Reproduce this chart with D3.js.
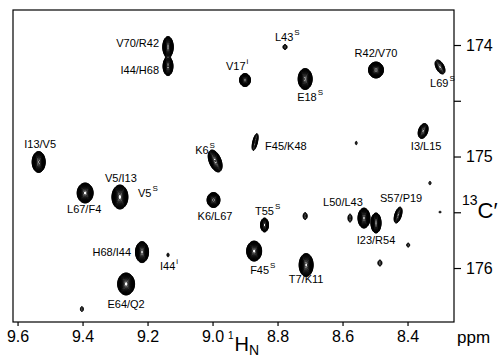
<!DOCTYPE html>
<html>
<head>
<meta charset="utf-8">
<script src="https://cdn.jsdelivr.net/npm/d3@7"></script>
<style>
  body { margin: 0; background: #fff; }
  svg { display: block; font-family: "Liberation Sans", Arial, Helvetica, sans-serif; }
</style>
</head>
<body>
<svg id="chart" width="503" height="360"></svg>
<script>
// cross peaks: 1H_N shift, 13C' shift (ppm), height, linewidths (ppm), tilt
var peakH   = [9.137, 9.137, 8.900, 8.777, 8.715, 8.497, 8.300, 9.535, 8.992, 8.869, 8.352,
               9.392, 9.285, 8.997, 8.840, 8.534, 8.497, 8.429, 9.217, 9.137, 8.872, 8.712,
               9.266, 9.402, 8.715, 8.577, 8.398, 8.485, 8.300, 8.331, 8.558];
var peakC   = [174.018, 174.19, 174.314, 174.018, 174.305, 174.224, 174.197, 175.049, 175.040,
               174.870, 174.771, 175.327, 175.363, 175.390, 175.614, 175.552, 175.596, 175.525,
               175.857, 175.883, 175.848, 175.973, 176.143, 176.368, 175.534, 175.552, 175.794,
               175.955, 175.498, 175.238, 174.879];
var peakAmp = [60, 40, 40, 2.5, 80, 80, 8, 80, 40, 6, 15,
               90, 90, 50, 20, 70, 60, 10, 70, 1.6, 90, 70,
               90, 1.8, 2.5, 2.5, 1.8, 2.2, 1.4, 1.5, 1.5];
var peakWH  = [0.0056, 0.0056, 0.0062, 0.0046, 0.0073, 0.0078, 0.0075, 0.0068, 0.0079, 0.0049, 0.0066,
               0.0082, 0.0082, 0.0071, 0.0050, 0.0063, 0.0054, 0.0057, 0.0069, 0.0032, 0.0077, 0.0074,
               0.0087, 0.0043, 0.0046, 0.0046, 0.0043, 0.0049, 0.0037, 0.0035, 0.0030];
var peakWC  = [0.033, 0.031, 0.0214, 0.0166, 0.0318, 0.0242, 0.0308, 0.0318, 0.0363, 0.0403, 0.0289,
               0.0299, 0.0359, 0.024, 0.0256, 0.0308, 0.0314, 0.0334, 0.0323, 0.0185, 0.0299, 0.0354,
               0.0329, 0.0207, 0.0233, 0.0266, 0.0166, 0.0214, 0.011, 0.018, 0.018];
var peakTilt = [0, 0, 0, 0, 0, 0, 0.5, 0, 0.45, -0.6, -0.3,
                0, 0, 0, 0, 0, 0, -0.5, 0, 0, 0, 0,
                0, 0, 0, 0, 0, 0, 0, 0, 0];

// assignments
var labelText = ['V70/R42', 'I44/H68', 'V17', 'L43', 'E18', 'R42/V70', 'L69', 'I13/V5', 'K6',
                 'F45/K48', 'I3/L15', 'L67/F4', 'V5/I13', 'V5', 'K6/L67', 'T55', 'L50/L43',
                 'S57/P19', 'I23/R54', 'H68/I44', 'I44', 'F45', 'T7/K11', 'E64/Q2'];
var labelSup  = ['', '', 'i', 'S', 'S', '', 'S', '', 'S',
                 '', '', '', '', 'S', '', 'S', '',
                 '', '', '', 'i', 'S', '', ''];
var labelPeak = [0, 1, 2, 3, 4, 5, 6, 7, 8, 9, 10, 11, 12, 12, 13, 14, 15, 17, 16, 18, 19, 20, 21, 22];

var xTicks = [9.6, 9.4, 9.2, 9.0, 8.8, 8.6, 8.4];
var yTicks = [174, 175, 176];
var yMinorTicks = [174.5, 175.5];

// label placement relative to the peak (anchor, dx, dy in px)
var labelPlace = [
  ['end', -9, 0], ['end', -9, 8], ['start', -19, -10], ['start', -10, -6], ['start', -8, 22],
  ['middle', 0, -13], ['start', -10, 20], ['middle', 1.5, -14], ['start', -20, -7],
  ['start', 10, 8], ['middle', 3, 19], ['middle', -1, 20], ['middle', 1, -15], ['start', 18, 0],
  ['middle', 1.5, 20], ['start', -9.5, -10], ['middle', -21, -12], ['middle', 3, -13],
  ['middle', 0, 21], ['end', -11, 4], ['start', -8, 15], ['start', -4, 23], ['middle', 0, 18],
  ['middle', 0, 24]
];

var plotL = 13, plotR = 454, plotT = 10, plotB = 322;
var svg = d3.select('#chart');

var x = d3.scaleLinear().domain([9.614, 8.257]).range([plotL, plotR]);
var y = d3.scaleLinear().domain([173.686, 176.484]).range([plotT, plotB]);

// build the spectrum on a half-pixel grid
var res = 0.5;
var nx = Math.round((plotR - plotL) / res), ny = Math.round((plotB - plotT) / res);
var grid = new Float64Array(nx * ny);
var pxH = Math.abs(x(1) - x(0)), pxC = Math.abs(y(1) - y(0));

for (var p = 0; p < peakH.length; p++) {
  var cx = (x(peakH[p]) - plotL) / res;
  var cy = (y(peakC[p]) - plotT) / res;
  var sx = peakWH[p] * pxH / res;
  var sy = peakWC[p] * pxC / res;
  var r = peakTilt[p];
  var k = 1 / (2 * (1 - r * r));
  var i0 = Math.max(0, Math.floor(cx - 6 * sx)), i1 = Math.min(nx - 1, Math.ceil(cx + 6 * sx));
  var j0 = Math.max(0, Math.floor(cy - 6 * sy)), j1 = Math.min(ny - 1, Math.ceil(cy + 6 * sy));
  for (var j = j0; j <= j1; j++) {
    var v = (j - cy) / sy;
    for (var i = i0; i <= i1; i++) {
      var u = (i - cx) / sx;
      grid[j * nx + i] += peakAmp[p] * Math.exp(-k * (u * u - 2 * r * u * v + v * v));
    }
  }
}

// contour levels, spaced by a constant factor as in the plotted spectrum
var levels = d3.range(22).map(function(i) { return Math.pow(1.24, i); });
var contours = d3.contours().size([nx, ny]).thresholds(levels)(grid);
var path = d3.geoPath(d3.geoIdentity().scale(res).translate([plotL - res / 2, plotT - res / 2]));

svg.append('g')
  .selectAll('path')
  .data(contours)
  .join('path')
  .attr('d', path)
  .attr('fill', 'none')
  .attr('stroke', '#000')
  .attr('stroke-width', 1);

// frame
svg.append('rect')
  .attr('x', plotL).attr('y', plotT)
  .attr('width', plotR - plotL).attr('height', plotB - plotT)
  .attr('fill', 'none').attr('stroke', '#000').attr('stroke-width', 1.2);

// axes
var xAxis = svg.append('g')
  .attr('transform', 'translate(0,' + plotB + ')')
  .call(d3.axisBottom(x).tickValues(xTicks).tickSize(4).tickPadding(5).tickFormat(d3.format('.1f')));
var yAxis = svg.append('g')
  .attr('transform', 'translate(' + plotR + ',0)')
  .call(d3.axisRight(y).tickValues(yTicks).tickSize(7).tickPadding(5).tickFormat(d3.format('d')));
var yMinor = svg.append('g')
  .attr('transform', 'translate(' + plotR + ',0)')
  .call(d3.axisRight(y).tickValues(yMinorTicks).tickSize(7).tickFormat(''));

[xAxis, yAxis, yMinor].forEach(function(a) {
  a.select('.domain').remove();
  a.selectAll('line').attr('stroke', '#000').attr('stroke-width', 1.2);
  a.selectAll('text').attr('fill', '#000').style('font-size', '16px')
    .style('font-family', '"Liberation Sans", Arial, sans-serif');
});

// assignment labels
var labels = svg.append('g').style('font-size', '11px').attr('fill', '#000');
labelText.forEach(function(t, n) {
  var p = labelPeak[n];
  var pl = labelPlace[n];
  var txt = labels.append('text')
    .attr('x', x(peakH[p]) + pl[1])
    .attr('y', y(peakC[p]) + pl[2])
    .attr('text-anchor', pl[0]);
  txt.append('tspan').text(t);
  if (labelSup[n]) {
    txt.append('tspan').attr('dx', 1).attr('dy', -6).style('font-size', '8px').text(labelSup[n]);
  }
});

// axis titles
svg.append('text').attr('x', 457).attr('y', 343).style('font-size', '17px').text('ppm');

var hTitle = svg.append('text').attr('x', 228).attr('y', 351);
hTitle.append('tspan').attr('dy', -12).style('font-size', '10px').text('1');
hTitle.append('tspan').attr('dx', 1).attr('dy', 12).style('font-size', '20px').text('H');
hTitle.append('tspan').attr('dy', 4).style('font-size', '14px').text('N');

var cTitle = svg.append('text').attr('x', 462).attr('y', 218);
cTitle.append('tspan').attr('dy', -13).style('font-size', '14px').text('13');
cTitle.append('tspan').attr('dy', 13).style('font-size', '22px').text('C\u2032');
</script>
</body>
</html>
